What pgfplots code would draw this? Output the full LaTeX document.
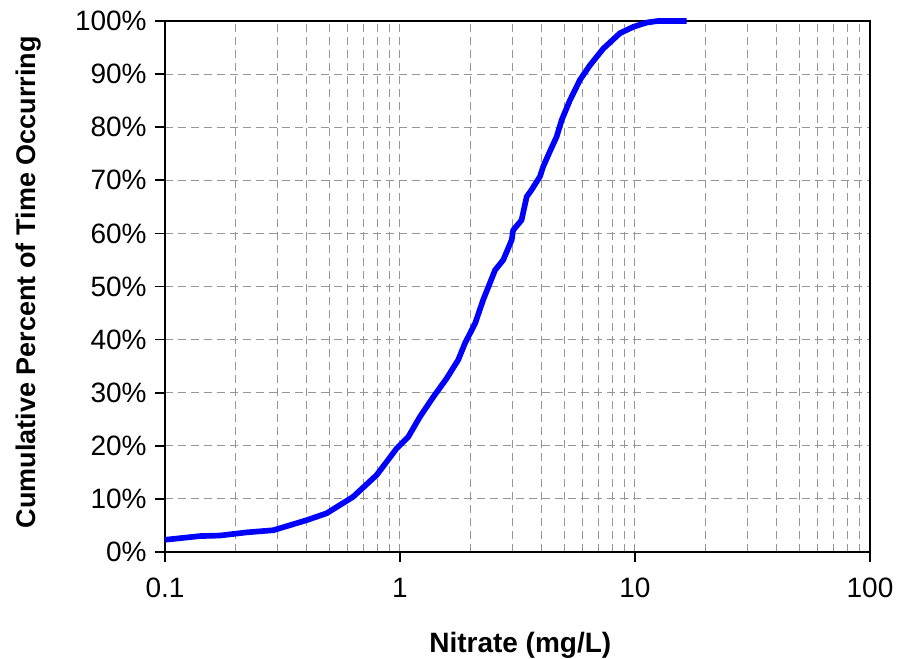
\documentclass[border=0pt]{standalone}
\usepackage{pgfplots}
\pgfplotsset{compat=1.18}
\usepackage{fontspec}
\setmainfont{Liberation Sans}

% Colours
\definecolor{curveBlue}{RGB}{0,0,255}
\definecolor{gridGray}{RGB}{150,150,150}

\begin{document}
\begin{tikzpicture}
\begin{axis}[
    at={(0,0)}, anchor=south west,
    scale only axis,
    width=423pt, height=318.6pt,
    xmode=log, log basis x=10,
    xmin=0.1, xmax=100,
    ymin=0, ymax=100,
    xtick={0.1,1,10,100},
    xticklabels={0.1,1,10,100},
    minor xtick={0.2,0.3,0.4,0.5,0.6,0.7,0.8,0.9,2,3,4,5,6,7,8,9,20,30,40,50,60,70,80,90},
    ytick={0,10,20,30,40,50,60,70,80,90,100},
    yticklabel={\pgfmathprintnumber{\tick}\%},
    /pgf/number format/assume math mode=true,
    tick label style={font=\fontsize{16.8}{20}\selectfont},
    xticklabel style={yshift=-6pt},
    yticklabel style={xshift=-1.5pt},
    tick align=outside,
    major tick length=6pt,
    minor tick length=0pt,
    xtick pos=bottom, ytick pos=left,
    axis line style={line width=1.2pt, black},
    major tick style={line width=1pt, black},
    xmajorgrids=true, xminorgrids=true, ymajorgrids=true,
    grid style={gridGray, line width=0.6pt, dash pattern=on 4.8pt off 3pt},
    xlabel={\bfseries Nitrate (mg/L)},
    ylabel={\bfseries Cumulative Percent of Time Occurring},
    xlabel style={font=\fontsize{16.8}{20}\selectfont, at={(axis description cs:0.504,-0.190)}, anchor=base},
    ylabel style={font=\fontsize{16.2}{20}\selectfont, at={(axis description cs:-0.184,0.508)}, anchor=base},
    clip=false,
]
\addplot[curveBlue, line width=3.4pt, line join=round] coordinates {
    (0.1,2.3) (0.141,3.0) (0.171,3.1) (0.223,3.7) (0.289,4.1)
    (0.401,6.0) (0.488,7.3) (0.632,10.4) (0.796,14.5) (0.968,19.5)
    (1.085,21.7) (1.217,25.5) (1.386,29.2) (1.58,32.7) (1.77,36.2)
    (1.89,39.3) (2.09,43.1) (2.26,47.5) (2.54,53.1) (2.75,55.0)
    (2.99,58.8) (3.03,60.6) (3.29,62.5) (3.46,66.9) (3.63,68.2)
    (3.94,70.7) (4.07,72.6) (4.35,75.5) (4.64,78.2) (4.88,81.4)
    (5.29,85.1) (5.83,88.9) (6.44,91.7) (7.33,94.8) (8.63,97.7)
    (9.84,98.9) (11.2,99.7) (12.5,100) (16.6,100)
};
\end{axis}
\pgfresetboundingbox
\path[use as bounding box] (-99pt,-63.6pt) rectangle (442.2pt,331.2pt);
\end{tikzpicture}
\end{document}
